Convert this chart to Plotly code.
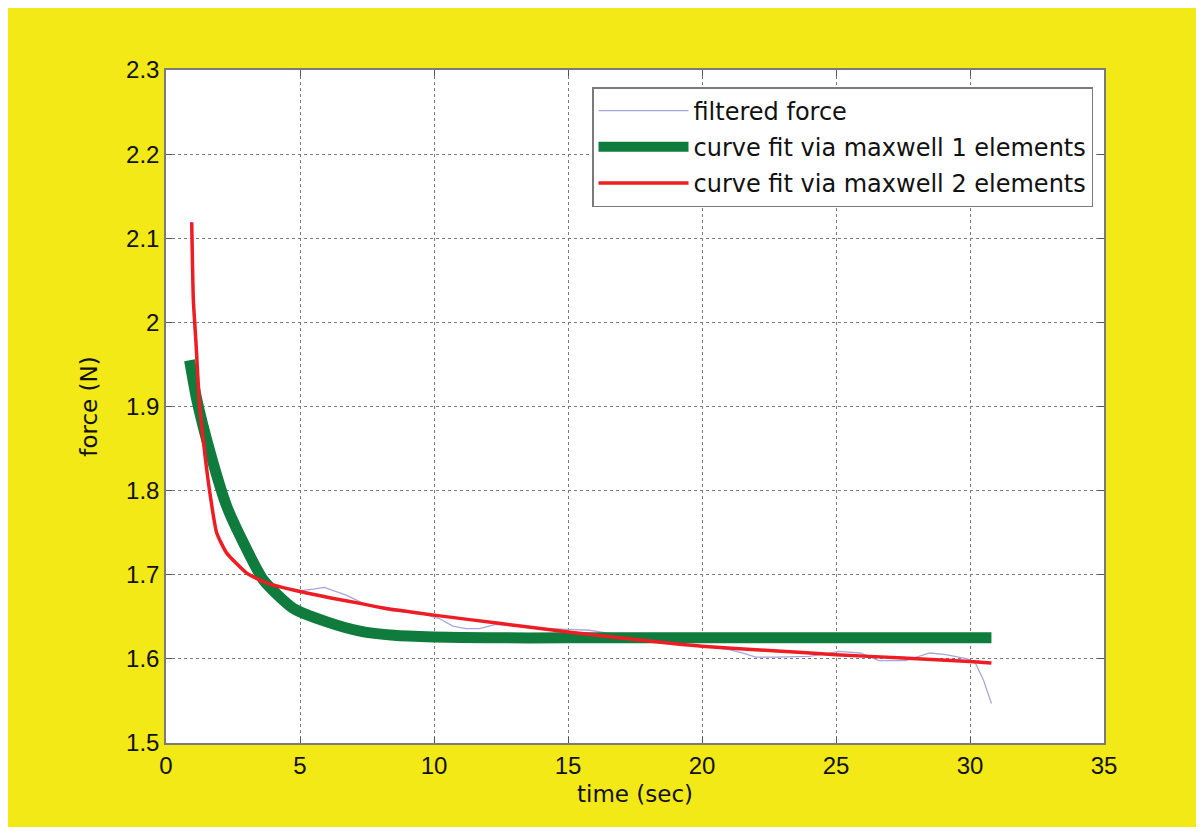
import plotly.graph_objects as go

# ---- data ----
filtered_t = [0.93, 1.02, 1.12, 1.24, 1.39, 1.62, 1.89, 2.26, 3.0, 3.75, 4.4, 5.0, 5.5, 5.9, 6.7, 7.5, 8.4,
              9.5, 10.2, 10.7, 11.2, 11.7, 12.3, 13.0, 14.2, 15.0, 15.8, 16.6, 17.5, 18.5, 19.5, 20.5,
              21.0, 21.5, 22.0, 22.8, 24.0, 24.6, 25.1, 25.9, 26.6, 27.6, 28.5, 29.1, 29.9, 30.2, 30.5, 30.8]
filtered_f = [2.119, 2.027, 1.975, 1.908, 1.860, 1.801, 1.750, 1.726, 1.702, 1.690, 1.684, 1.681, 1.683,
              1.685, 1.676, 1.664, 1.657, 1.654, 1.648, 1.639, 1.636, 1.636, 1.641, 1.639, 1.636, 1.635,
              1.634, 1.630, 1.624, 1.621, 1.617, 1.613, 1.611, 1.607, 1.602, 1.602, 1.603, 1.606, 1.609,
              1.607, 1.598, 1.598, 1.607, 1.605, 1.600, 1.595, 1.575, 1.547]

fit1_t = [0.88, 1.15, 1.65, 2.27, 2.89, 3.63, 4.75, 6.0, 7.24, 8.5, 10.0, 12.0, 15.0, 20.0, 25.0, 30.8]
fit1_f = [1.955, 1.908, 1.845, 1.781, 1.738, 1.694, 1.660, 1.644, 1.633, 1.628, 1.626, 1.625, 1.625,
          1.625, 1.625, 1.625]

fit2_t = [0.96, 1.02, 1.12, 1.24, 1.39, 1.62, 1.89, 2.26, 3.01, 3.76, 5.0, 6.2, 7.24, 8.0, 10.0, 12.5,
          15.0, 17.5, 20.0, 22.5, 25.0, 27.5, 30.0, 30.8]
fit2_f = [2.119, 2.027, 1.975, 1.908, 1.860, 1.801, 1.750, 1.726, 1.702, 1.690, 1.680, 1.672, 1.666,
          1.661, 1.652, 1.642, 1.632, 1.623, 1.615, 1.610, 1.605, 1.601, 1.597, 1.595]

names = ["filtered force", "curve fit via maxwell 1 elements", "curve fit via maxwell 2 elements"]
x_ticks = [0, 5, 10, 15, 20, 25, 30, 35]
y_ticks = [1.5, 1.6, 1.7, 1.8, 1.9, 2.0, 2.1, 2.2, 2.3]
y_tick_text = ["1.5", "1.6", "1.7", "1.8", "1.9", "2", "2.1", "2.2", "2.3"]

YELLOW = "#f2e917"
FONT = "Liberation Sans, Arial, sans-serif"
TFONT = "DejaVu Sans, sans-serif"

fig = go.Figure()
fig.add_trace(go.Scatter(x=filtered_t, y=filtered_f, mode="lines", name=names[0], legendgroup="a",
                         line=dict(color="#a4a7de", width=1.3)))
fig.add_trace(go.Scatter(x=fit1_t, y=fit1_f, mode="lines", name=names[1], legendgroup="b",
                         line=dict(color="#0f7b3c", width=11, shape="spline", smoothing=0.6)))
fig.add_trace(go.Scatter(x=fit2_t, y=fit2_f, mode="lines", name=names[2], legendgroup="c",
                         line=dict(color="#ee1d23", width=3.5, shape="spline", smoothing=0.5)))

# page has an 8px body margin; the figure spans page px 8..1200 x 8..827
OFF = 8
W, H = 1200 - OFF, 827 - OFF
L, R, T, B = 166 - OFF, 1200 - 1104, 70 - OFF, 827 - 743
pw, ph = W - L - R, H - T - B

def px(x):
    return (x - OFF - L) / pw

def py(y):
    return (H - B - (y - OFF)) / ph

axis_common = dict(showline=True, linecolor="#7a7a7a", linewidth=1.5, mirror="ticks",
                   ticks="inside", ticklen=6, tickcolor="#555", showgrid=True,
                   gridcolor="#7a7a7a", griddash="dot", gridwidth=1, zeroline=False,
                   tickfont=dict(family=FONT, size=24, color="#111"))

fig.update_layout(
    width=W, height=H,
    margin=dict(l=L, r=R, t=T, b=B),
    paper_bgcolor=YELLOW, plot_bgcolor="white",
    font=dict(family=FONT, color="#111"),
    xaxis=dict(range=[0, 35], tickvals=x_ticks,
               title=dict(text="time (sec)", font=dict(family=TFONT, size=23, color="#111"), standoff=8),
               **axis_common),
    yaxis=dict(range=[1.5, 2.3], tickvals=y_ticks, ticktext=y_tick_text,
               title=dict(text="force (N)", font=dict(family=TFONT, size=23, color="#111"), standoff=22),
               **axis_common),
    legend=dict(x=px(1093), y=py(87), xanchor="right", yanchor="top",
                bgcolor="white", bordercolor="#7a7a7a", borderwidth=1.5,
                font=dict(family=TFONT, size=24, color="#111"),
                traceorder="grouped", tracegroupgap=2, itemwidth=90),
    showlegend=True,
)

fig.write_html("out.html")
